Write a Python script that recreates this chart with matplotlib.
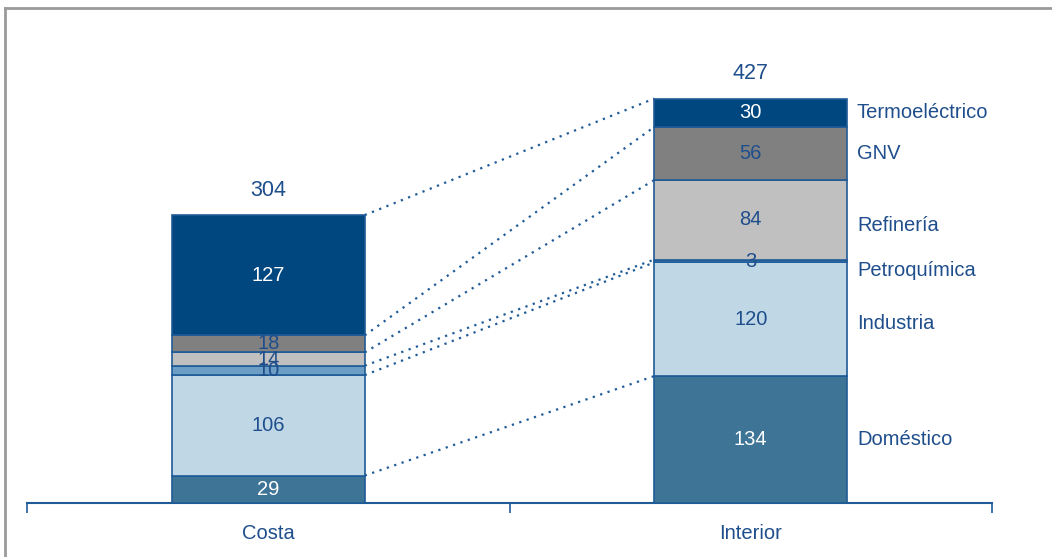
import matplotlib
matplotlib.use("Agg")
import matplotlib.pyplot as plt
from matplotlib.lines import Line2D
import numpy as np

plt.rcParams['font.family'] = ['Liberation Sans', 'DejaVu Sans']

# Data
regions = ["Costa", "Interior"]
sectors = ["Doméstico", "Industria", "Petroquímica", "Refinería", "GNV", "Termoeléctrico"]
costa = [29, 106, 10, 14, 18, 127]
interior = [134, 120, 3, 84, 56, 30]

# Styling
colors = ["#3E7596", "#C0D8E6", "#6B9DC5", "#C0C0C0", "#808080", "#00467F"]
text_colors = ["white", "#1F4E8C", "#1F4E8C", "#1F4E8C", "#1F4E8C", "white"]
edge = "#1F5B97"
blue_text = "#1F4E8C"
bar_w = 0.4
fs = 14.5

fig = plt.figure(figsize=(10.52, 5.57), dpi=100)
ax = fig.add_axes([27 / 1052, 54 / 557, 965 / 1052, 0.8162])

values = np.array([costa, interior], dtype=float)
x = np.arange(len(regions))
bottoms = np.zeros(len(regions))
for i, sec in enumerate(sectors):
    ax.bar(x, values[:, i], bottom=bottoms, width=bar_w, color=colors[i],
           edgecolor=edge, linewidth=1.2, zorder=3)
    for j in range(len(regions)):
        ax.text(x[j], bottoms[j] + values[j, i] / 2, f"{int(values[j, i])}",
                ha="center", va="center", color=text_colors[i], fontsize=fs, zorder=4)
    bottoms = bottoms + values[:, i]

# Totals above each bar
for j in range(len(regions)):
    ax.text(x[j], bottoms[j] + 15, f"{int(bottoms[j])}", ha="center", va="bottom",
            color=blue_text, fontsize=fs + 1)

# Dotted connectors between matching segment tops
cum = np.cumsum(values, axis=1)
for i in range(len(sectors)):
    ax.plot([x[0] + bar_w / 2, x[1] - bar_w / 2], [cum[0, i], cum[1, i]],
            linestyle=(0, (1, 2.5)), color=edge, linewidth=1.6, zorder=2)

# Sector labels to the right of the Interior bar
label_nudge = [0, -4, -10, -6, 0, 0]
starts = cum[1] - values[1]
for i, sec in enumerate(sectors):
    yc = starts[i] + values[1, i] / 2 + label_nudge[i]
    ax.text(x[1] + bar_w / 2 + 0.02, yc, sec, ha="left", va="center",
            color=blue_text, fontsize=fs)

ax.set_xlim(-0.5, 1.5)
ax.set_ylim(0, 480)
for s in ["top", "right", "left"]:
    ax.spines[s].set_visible(False)
ax.spines["bottom"].set_color(edge)
ax.spines["bottom"].set_linewidth(1.5)
ax.set_yticks([])
ax.set_xticks(x)
ax.set_xticklabels(regions, fontsize=fs, color=blue_text)
ax.tick_params(axis="x", which="major", length=0, pad=15)
ax.set_xticks([-0.5, 0.5, 1.5], minor=True)
ax.tick_params(axis="x", which="minor", length=7, width=1.2, color=edge, direction="out")

# Frame around the figure (top and left edges visible)
fig.add_artist(Line2D([5 / 1052, 5 / 1052], [0, 1 - 8 / 557], transform=fig.transFigure,
                      color="#9A9A9A", linewidth=2))
fig.add_artist(Line2D([5 / 1052, 1], [1 - 8 / 557, 1 - 8 / 557], transform=fig.transFigure,
                      color="#9A9A9A", linewidth=2))

fig.savefig("out.png", dpi=100)
